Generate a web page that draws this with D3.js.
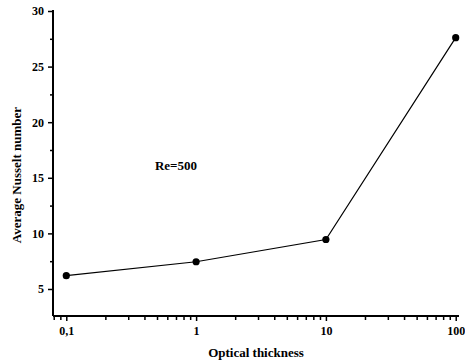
<!DOCTYPE html>
<html>
<head>
<meta charset="utf-8">
<script src="https://cdn.jsdelivr.net/npm/d3@7"></script>
<style>
  body { margin: 0; background: #fff; }
  text { font-family: "Liberation Serif", "Times New Roman", serif; font-weight: bold; fill: #000; }
</style>
</head>
<body>
<svg id="chart" width="465" height="364"></svg>
<script>
const opticalThickness = [0.1, 1, 10, 100]
const nusselt = [6.2, 7.45, 9.45, 27.6]
const xTickValues = [0.1, 1, 10, 100]
const xTickLabels = ["0,1", "1", "10", "100"]
const yTickValues = [5, 10, 15, 20, 25, 30]

const svg = d3.select("#chart")
const margin = { left: 53, top: 11, right: 6, bottom: 48 }
const width = 465
const height = 364

const x = d3.scaleLog()
  .domain([0.079, 106])
  .range([margin.left, width - margin.right])

const y = d3.scaleLinear()
  .domain([2.57, 30])
  .range([height - margin.bottom, margin.top])

// minor ticks on the log axis
const xMinor = []
for (let p = -2; p <= 2; p++) {
  for (let m = 2; m <= 9; m++) {
    const v = m * Math.pow(10, p)
    if (v >= x.domain()[0] && v <= x.domain()[1]) xMinor.push(v)
  }
}
const yMinor = d3.range(7.5, 30, 5)

const xAxisG = svg.append("g")
  .attr("transform", `translate(0,${height - margin.bottom})`)

xAxisG.append("g")
  .call(d3.axisBottom(x).tickValues(xMinor).tickSize(4).tickFormat(""))
  .call(g => g.select(".domain").remove())

xAxisG.append("g")
  .call(d3.axisBottom(x).tickValues(xTickValues).tickSize(5).tickPadding(5)
    .tickFormat((d, i) => xTickLabels[i]))
  .call(g => g.select(".domain").remove())
  .selectAll("text").style("font-size", "12px")

xAxisG.selectAll(".tick line").attr("stroke", "#000").attr("stroke-width", 1.5)

const yAxisG = svg.append("g")
  .attr("transform", `translate(${margin.left},0)`)

yAxisG.append("g")
  .call(d3.axisLeft(y).tickValues(yMinor).tickSize(3).tickFormat(""))
  .call(g => g.select(".domain").remove())

yAxisG.append("g")
  .call(d3.axisLeft(y).tickValues(yTickValues).tickSize(5).tickPadding(4))
  .call(g => g.select(".domain").remove())
  .selectAll("text").style("font-size", "12px")

yAxisG.selectAll(".tick line").attr("stroke", "#000").attr("stroke-width", 1.5)

// axis lines
svg.append("line")
  .attr("x1", margin.left).attr("x2", margin.left)
  .attr("y1", margin.top - 1).attr("y2", height - margin.bottom)
  .attr("stroke", "#000").attr("stroke-width", 2)
svg.append("line")
  .attr("x1", margin.left).attr("x2", width - margin.right)
  .attr("y1", height - margin.bottom).attr("y2", height - margin.bottom)
  .attr("stroke", "#000").attr("stroke-width", 2)

const data = opticalThickness.map((t, i) => ({ t, nu: nusselt[i] }))

svg.append("path")
  .datum(data)
  .attr("fill", "none")
  .attr("stroke", "#000")
  .attr("stroke-width", 1.2)
  .attr("d", d3.line().x(d => x(d.t)).y(d => y(d.nu)))

svg.selectAll("circle.pt")
  .data(data)
  .join("circle")
  .attr("class", "pt")
  .attr("cx", d => x(d.t))
  .attr("cy", d => y(d.nu))
  .attr("r", 3.6)
  .attr("fill", "#000")

svg.append("text")
  .attr("x", 176)
  .attr("y", 170)
  .attr("text-anchor", "middle")
  .style("font-size", "13px")
  .text("Re=500")

svg.append("text")
  .attr("x", 256)
  .attr("y", 357)
  .attr("text-anchor", "middle")
  .style("font-size", "13px")
  .text("Optical thickness")

svg.append("text")
  .attr("transform", "translate(21,175) rotate(-90)")
  .attr("text-anchor", "middle")
  .style("font-size", "13px")
  .text("Average Nusselt number")
</script>
</body>
</html>
